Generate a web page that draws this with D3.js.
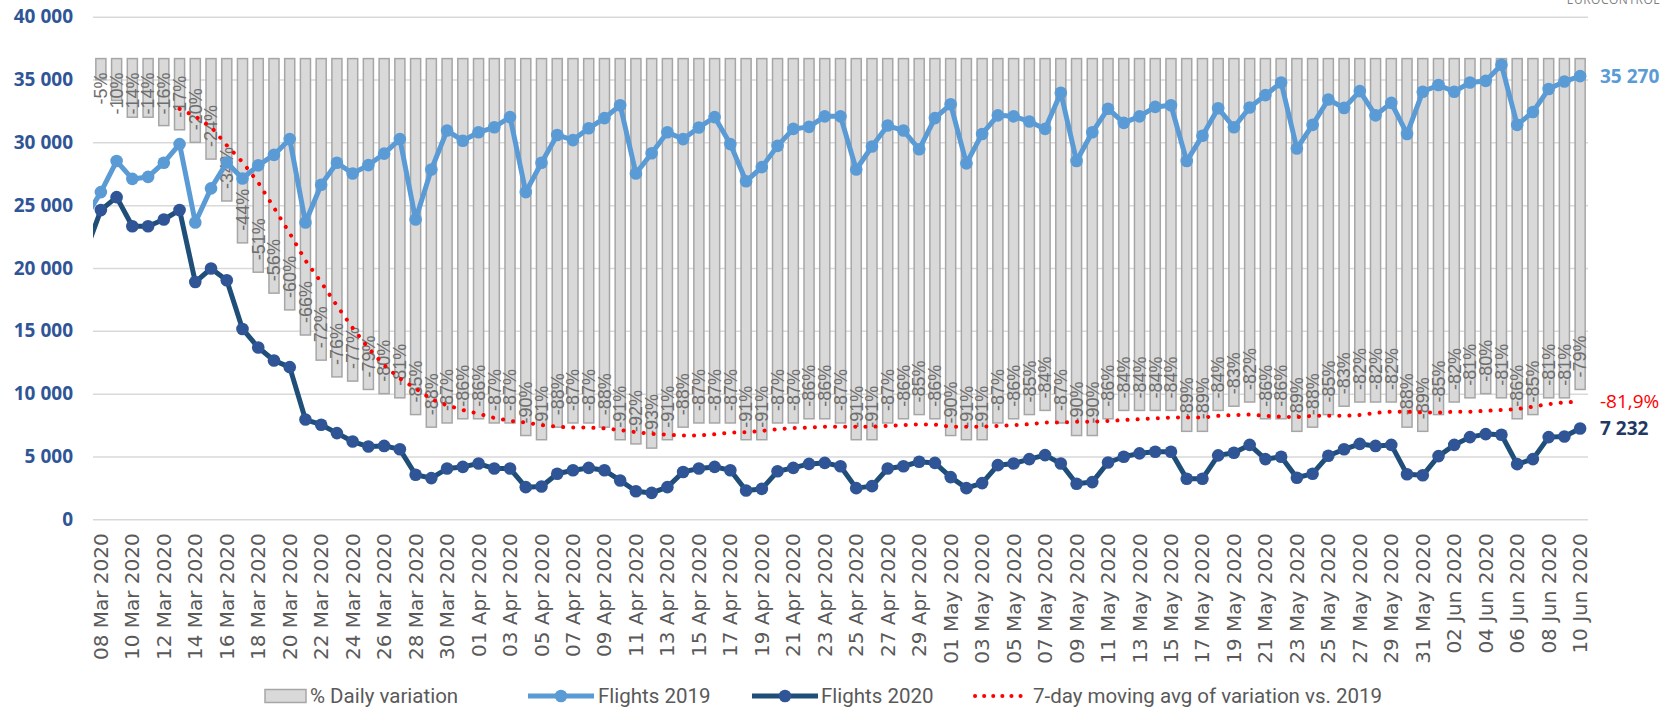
<!DOCTYPE html>
<html>
<head>
<meta charset="utf-8">
<script src="https://cdn.jsdelivr.net/npm/d3@7"></script>
<style>
	body { margin: 0; background: #fff; }
	svg { display: block; }
</style>
</head>
<body>
<div id="chart"></div>
<script>
// Categories: one per day, 08 Mar 2020 .. 10 Jun 2020
const days = d3.timeDay.range(new Date(2020, 2, 8), new Date(2020, 5, 11));

// % daily variation vs 2019 (bar labels)
const variation = [
	-5, -10, -14, -14, -16, -17, -20, -24, -34, -44,
	-51, -56, -60, -66, -72, -76, -77, -79, -80, -81,
	-85, -88, -87, -86, -86, -87, -87, -90, -91, -88,
	-87, -87, -88, -91, -92, -93, -91, -88, -87, -87,
	-87, -91, -91, -87, -87, -86, -86, -87, -91, -91,
	-87, -86, -85, -86, -90, -91, -91, -87, -86, -85,
	-84, -87, -90, -90, -86, -84, -84, -84, -84, -89,
	-89, -84, -83, -82, -86, -86, -89, -88, -85, -83,
	-82, -82, -82, -88, -89, -85, -82, -81, -80, -81,
	-86, -85, -81, -81, -79
];

const flights2019 = [
	26040, 28510, 27090, 27250, 28380, 29860, 23620, 26340, 28400, 27120,
	28170, 29000, 30260, 23620, 26630, 28380, 27520, 28190, 29100, 30260,
	23860, 27840, 30940, 30130, 30800, 31200, 32010, 26040, 28380, 30590,
	30180, 31120, 31930, 32950, 27520, 29130, 30800, 30260, 31180, 32010,
	29860, 26900, 28030, 29720, 31070, 31230, 32070, 32070, 27840, 29670,
	31340, 30940, 29450, 31930, 33030, 28330, 30670, 32150, 32070, 31660,
	31070, 33950, 28510, 30800, 32680, 31550, 32070, 32820, 32950, 28510,
	30530, 32710, 31200, 32770, 33760, 34760, 29510, 31390, 33410, 32740,
	34080, 32150, 33140, 30670, 34030, 34570, 34030, 34760, 34890, 36180,
	31390, 32420, 34240, 34840, 35270
];

const flights2020 = [
	24610, 25640, 23320, 23320, 23860, 24610, 18880, 19960, 19020, 15150,
	13670, 12640, 12110, 7940, 7530, 6860, 6190, 5790, 5840, 5570,
	3550, 3280, 4040, 4170, 4440, 4040, 4040, 2560, 2610, 3630,
	3900, 4090, 3900, 3090, 2230, 2100, 2560, 3770, 4040, 4170,
	3900, 2290, 2420, 3820, 4090, 4410, 4490, 4220, 2480, 2640,
	4040, 4220, 4580, 4490, 3360, 2480, 2880, 4310, 4440, 4790,
	5110, 4440, 2830, 2960, 4520, 4980, 5250, 5380, 5380, 3230,
	3230, 5090, 5300, 5920, 4790, 4980, 3310, 3630, 5060, 5570,
	6000, 5840, 5920, 3580, 3500, 5030, 5920, 6540, 6780, 6730,
	4390, 4790, 6540, 6590, 7232
];

// values of the day before the first category (line runs in from the left edge)
const previousDay = { f2019: 23950, f2020: 21200 };

// 7-day moving average of variation, starting 13 Mar 2020
const movingAvgStart = 5;
const movingAvg = [
	-12.0, -13.8, -16.3, -20.7, -24.7,
	-29.6, -35.6, -41.7, -48.2, -53.4, -59.0, -64.3, -69.1, -73.2, -76.4,
	-78.8, -81.3, -82.8, -83.9, -84.8, -85.8, -86.5, -86.9, -87.5, -87.9,
	-88.1, -88.1, -88.3, -88.7, -89.2, -89.6, -89.8, -90.0, -90.0, -89.7,
	-89.3, -89.2, -88.9, -88.5, -88.2, -88.1, -87.9, -87.9, -87.9, -87.9,
	-87.7, -87.5, -87.3, -87.4, -87.9, -87.9, -87.9, -87.7, -87.5, -87.3,
	-86.9, -86.9, -86.7, -86.7, -86.5, -86.3, -86.1, -85.9, -85.7, -85.7,
	-85.7, -85.3, -85.1, -85.0, -85.3, -85.5, -85.6, -85.3, -85.3, -85.3,
	-85.1, -84.6, -84.3, -84.3, -84.5, -84.5, -84.3, -84.3, -84.1, -83.9,
	-83.7, -83.1, -82.5, -82.1, -81.9
];

const yTicks = [0, 5000, 10000, 15000, 20000, 25000, 30000, 35000, 40000];
const legendItems = ["% Daily variation", "Flights 2019", "Flights 2020", "7-day moving avg of variation vs. 2019"];

// Colours
const C2019 = "#5b9bd5", C2020LINE = "#1f4e79", C2020DOT = "#2f5597";
const CRED = "#ff0000", CBAR = "#d9d9d9", CBARLINE = "#a6a6a6";

const width = 1665, height = 708;
const margin = { left: 93, right: 1588, top: 16.7, bottom: 519.3 };

const locale = d3.formatLocale({ decimal: ",", thousands: " ", grouping: [3], currency: ["", ""], minus: "-" });
const fmtInt = locale.format(",d");
const fmtPct = locale.format(".1f");
const fmtDay = d3.timeFormat("%d %b %Y");

const svg = d3.select("#chart").append("svg")
	.attr("width", width).attr("height", height)
	.style("font-family", "'Open Sans', sans-serif");

// Scales
const x = d3.scaleBand(days, [margin.left, margin.right]).paddingInner(0.36).paddingOuter(0.18);
const cx = (d) => x(d) + x.bandwidth() / 2;
const y = d3.scaleLinear([0, 40000], [margin.bottom, margin.top]);
const y2 = d3.scaleLinear([-110, 10], [margin.bottom, margin.top]);   // secondary (hidden) % axis

svg.append("clipPath").attr("id", "plot")
	.append("rect").attr("x", margin.left).attr("y", 0)
	.attr("width", margin.right - margin.left).attr("height", height);

// Gridlines + y labels
const axisY = d3.axisLeft(y).tickValues(yTicks).tickFormat(fmtInt)
	.tickSize(-(margin.right - margin.left)).tickPadding(20);
svg.append("g").attr("transform", `translate(${margin.left},0)`).call(axisY)
	.call((g) => g.select(".domain").remove())
	.call((g) => g.selectAll(".tick line").attr("stroke", "#d9d9d9").attr("stroke-width", 1.5))
	.call((g) => g.selectAll(".tick text")
		.attr("fill", "#2f5597").attr("font-size", 19).attr("font-weight", 700)
		.attr("font-family", "'Open Sans', sans-serif"));

// x labels (every other day)
const axisX = d3.axisBottom(x).tickValues(days.filter((d, i) => i % 2 === 0))
	.tickFormat(fmtDay).tickSize(0).tickPadding(0);
svg.append("g").attr("transform", `translate(0,${margin.bottom})`).call(axisX)
	.call((g) => g.select(".domain").remove())
	.call((g) => g.selectAll(".tick text")
		.attr("transform", "rotate(-90)")
		.attr("text-anchor", "end")
		.attr("x", -14).attr("y", 0).attr("dy", "0.35em")
		.attr("fill", "#595959").attr("font-size", 20)
		.attr("font-family", "'DejaVu Sans', sans-serif"));

// Bars hanging from 0 %
const bars = svg.append("g");
bars.selectAll("rect").data(days).join("rect")
	.attr("x", (d) => x(d))
	.attr("y", y2(0))
	.attr("width", x.bandwidth())
	.attr("height", (d, i) => y2(variation[i]) - y2(0))
	.attr("fill", CBAR).attr("stroke", CBARLINE).attr("stroke-width", 1.5);

// Bar labels, inside the bar end
const labels = svg.append("g")
	.attr("font-family", "'Liberation Sans', Arial, sans-serif")
	.attr("font-size", 18).attr("fill", "#6e6e6e");
labels.selectAll("text").data(days).join("text")
	.text((d, i) => variation[i] + "%")
	.each(function (d, i) {
		const len = this.getComputedTextLength();
		const yb = Math.max(y2(variation[i]) - 12, y2(0) + 14 + len);
		d3.select(this)
			.attr("transform", `translate(${cx(d)},${yb}) rotate(-90)`)
			.attr("dy", "0.35em");
	});

// Moving average
const plot = svg.append("g").attr("clip-path", "url(#plot)");
const avgLine = d3.line().x((d) => cx(days[d.i])).y((d) => y2(d.v));
plot.append("path")
	.attr("d", avgLine(movingAvg.map((v, k) => ({ i: k + movingAvgStart, v }))))
	.attr("fill", "none").attr("stroke", CRED).attr("stroke-width", 4)
	.attr("stroke-linecap", "round").attr("stroke-dasharray", "0.1 10");

// Flight lines
function flightLine(values, prev, lineColor, dotColor) {
	const pts = [{ x: cx(days[0]) - x.step(), v: prev }]
		.concat(values.map((v, i) => ({ x: cx(days[i]), v })));
	plot.append("path")
		.attr("d", d3.line().x((d) => d.x).y((d) => y(d.v))(pts))
		.attr("fill", "none").attr("stroke", lineColor).attr("stroke-width", 5)
		.attr("stroke-linejoin", "round");
	plot.append("g").selectAll("circle").data(values).join("circle")
		.attr("cx", (d, i) => cx(days[i])).attr("cy", (d) => y(d))
		.attr("r", 6.3).attr("fill", dotColor);
}
flightLine(flights2019, previousDay.f2019, C2019, C2019);
flightLine(flights2020, previousDay.f2020, C2020LINE, C2020DOT);

// End labels
const last = days.length - 1;
const endX = margin.right + 12;
svg.append("text").attr("x", endX).attr("y", y(flights2019[last])).attr("dy", "0.35em")
	.attr("font-size", 19).attr("font-weight", 700).attr("fill", C2019)
	.text(fmtInt(flights2019[last]));
svg.append("text").attr("x", endX).attr("y", y2(movingAvg[movingAvg.length - 1])).attr("dy", "0.35em")
	.attr("font-size", 19).attr("fill", CRED)
	.text(fmtPct(movingAvg[movingAvg.length - 1]) + "%");
svg.append("text").attr("x", endX).attr("y", y(flights2020[last])).attr("dy", "0.35em")
	.attr("font-size", 19).attr("font-weight", 700).attr("fill", "#1f3864")
	.text(fmtInt(flights2020[last]));

// Cut-off source text at the top right
svg.append("text").attr("x", 1660).attr("y", 4).attr("text-anchor", "end")
	.attr("font-size", 12).attr("fill", "#7f7f7f").attr("letter-spacing", 0.5)
	.text("EUROCONTROL");

// Legend
const legend = svg.append("g").attr("transform", "translate(0,696)")
	.attr("font-family", "'Liberation Sans Narrow', 'Arial Narrow', Roboto, sans-serif")
	.attr("font-size", 20.5).attr("fill", "#595959");
const legendX = [265, 528, 752, 975];
legend.append("rect").attr("x", legendX[0]).attr("y", -6.5).attr("width", 41).attr("height", 13)
	.attr("fill", CBAR).attr("stroke", CBARLINE).attr("stroke-width", 1.5);
[[C2019, C2019], [C2020LINE, C2020DOT]].forEach(([lc, dc], k) => {
	const x0 = legendX[k + 1];
	legend.append("line").attr("x1", x0).attr("x2", x0 + 66).attr("stroke", lc).attr("stroke-width", 5);
	legend.append("circle").attr("cx", x0 + 33).attr("r", 6.3).attr("fill", dc);
});
legend.append("line").attr("x1", legendX[3]).attr("x2", legendX[3] + 53)
	.attr("stroke", CRED).attr("stroke-width", 4).attr("stroke-linecap", "round")
	.attr("stroke-dasharray", "0.1 9");
const textX = [310, 598, 821, 1033];
legend.selectAll("text.lbl").data(legendItems).join("text").attr("class", "lbl")
	.attr("x", (d, i) => textX[i]).attr("dy", "0.35em").text((d) => d);
</script>
</body>
</html>
